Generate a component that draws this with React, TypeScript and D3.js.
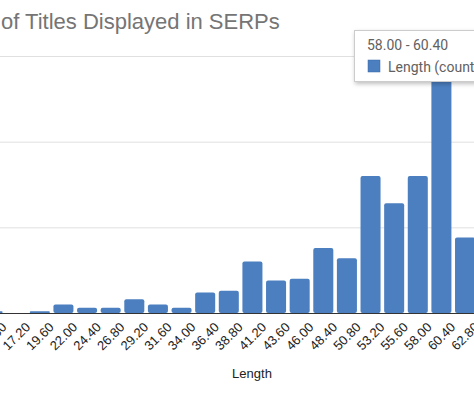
import React from "react";
import * as d3 from "d3";

// bucket edges as shown on the x axis
const edgeLabels = [
  "12.40", "14.80", "17.20", "19.60", "22.00", "24.40", "26.80", "29.20",
  "31.60", "34.00", "36.40", "38.80", "41.20", "43.60", "46.00", "48.40",
  "50.80", "53.20", "55.60", "58.00", "60.40", "62.80",
];

// count per bucket (one less than the edges)
const counts = [1, 0, 1, 5, 3, 3, 8, 5, 3, 12, 13, 30, 19, 20, 38, 32, 80, 64, 80, 145, 44];

const gridValues = [0, 50, 100, 150];

const title = "of Titles Displayed in SERPs";
const axisTitle = "Length";
const tooltipRange = "58.00 - 60.40";
const seriesName = "Length (count)";

const W = 474;
const H = 396;
const BLUE = "#4b7fc0";

export default function App() {
  const edges = edgeLabels.map(Number);

  const x = d3.scaleLinear().domain([17.2, 58.0]).range([28, 429.6]);
  const y = d3.scaleLinear().domain([0, 150]).range([313, 56]);

  const pitch = x(edges[1]) - x(edges[0]);
  const gap = 1.8;

  return (
    <div style={{ position: "fixed", left: 0, top: 0 }}>
      <svg width={W} height={H} style={{ display: "block", background: "#fff" }}>
        <defs>
          <filter id="shadow" x="-10%" y="-20%" width="130%" height="160%">
            <feDropShadow dx="1" dy="2" stdDeviation="2" floodColor="#000" floodOpacity="0.25" />
          </filter>
        </defs>

        <text x={1} y={29} fontFamily="Arial, Liberation Sans, sans-serif" fontSize={22} fill="#757575">
          {title}
        </text>

        {gridValues.map((v) => (
          <line
            key={v}
            x1={0}
            x2={W}
            y1={y(v) + 0.5}
            y2={y(v) + 0.5}
            stroke={v === 0 ? "#333" : "#e0e0e0"}
            strokeWidth={1}
          />
        ))}

        {counts.map((c, i) => {
          const x0 = x(edges[i]) + gap;
          const h = y(0) - y(c);
          if (h <= 0) return null;
          return (
            <rect
              key={i}
              x={x0}
              y={y(c)}
              width={pitch - gap * 2}
              height={h}
              rx={Math.min(2, h / 2)}
              fill={BLUE}
            />
          );
        })}

        {edgeLabels.map((lab, i) => {
          const tx = x(edges[i]);
          if (tx < 0) return null; // wholly outside the picture
          return (
            <text
              key={lab}
              transform={`translate(${tx + 3},328) rotate(-45)`}
              textAnchor="end"
              fontFamily="Arial, Liberation Sans, sans-serif"
              fontSize={13}
              fill="#222"
            >
              {lab}
            </text>
          );
        })}

        <text
          x={252}
          y={378}
          textAnchor="middle"
          fontFamily="Arial, Liberation Sans, sans-serif"
          fontSize={13}
          fill="#222"
        >
          {axisTitle}
        </text>

        <g filter="url(#shadow)">
          <rect x={354.5} y={30.5} width={140} height={51} fill="#fff" stroke="#ccc" strokeWidth={1} />
        </g>
        <text x={367} y={50} fontFamily="Roboto, Arial, sans-serif" fontSize={14} fill="#616161">
          {tooltipRange}
        </text>
        <rect x={368} y={60} width={12} height={12} fill={BLUE} stroke="#3b6aa6" strokeWidth={0.5} />
        <text x={388} y={72} fontFamily="Roboto, Arial, sans-serif" fontSize={14} fill="#616161">
          {seriesName}
        </text>
      </svg>
    </div>
  );
}
